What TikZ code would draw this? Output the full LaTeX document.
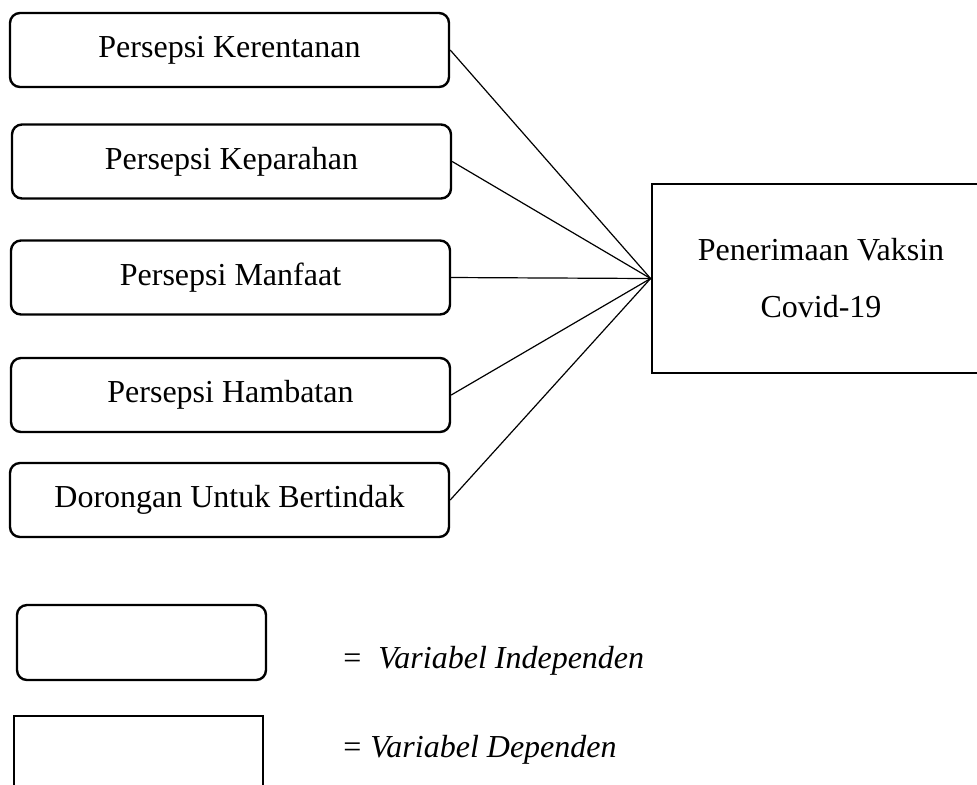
\documentclass[tikz,border=0pt]{standalone}
\usepackage{fontspec}
\setmainfont{Liberation Serif}
\begin{document}
\begin{tikzpicture}[x=0.5pt,y=-0.5pt,
  indep/.style={draw,line width=1.2pt,rounded corners=5pt,minimum width=219.5pt,minimum height=37pt,inner sep=0pt,font=\fontsize{16}{19}\selectfont},
  dep/.style={draw,line width=1.4pt,minimum width=169pt,minimum height=94.5pt,inner sep=0pt,align=center,font=\fontsize{16}{28.5}\selectfont},
  conn/.style={line width=0.6pt},
  legtext/.style={anchor=base west,inner sep=0pt,font=\fontsize{16}{19}\selectfont}]
\useasboundingbox (0,0) rectangle (977,784);
\node[indep] (b1) at (229.5,50) {Persepsi Kerentanan};
\node[indep] (b2) at (231.5,161.5) {Persepsi Keparahan};
\node[indep] (b3) at (230.5,277.5) {Persepsi Manfaat};
\node[indep] (b4) at (230.5,395) {Persepsi Hambatan};
\node[indep] (b5) at (229.5,500) {Dorongan Untuk Bertindak};
\node[dep] (d) at (821,278.5) {Penerimaan Vaksin\\Covid-19};
\foreach \b in {b1,b2,b3,b4,b5} \draw[conn] (\b.east) -- (d.west);
% legend
\node[draw,line width=1.2pt,rounded corners=5pt,minimum width=124.5pt,minimum height=37.5pt,inner sep=0pt] (li) at (141.5,642.5) {};
\node[draw,line width=1.4pt,minimum width=124.5pt,minimum height=45pt,inner sep=0pt] (ld) at (138.5,761) {};
\node[legtext] (ti) at (343,668) {=\hspace{8.5pt}\textit{Variabel Independen}};
\node[legtext] (td) at (343,757) {=\hspace{4.5pt}\textit{Variabel Dependen}};
\end{tikzpicture}
\end{document}
